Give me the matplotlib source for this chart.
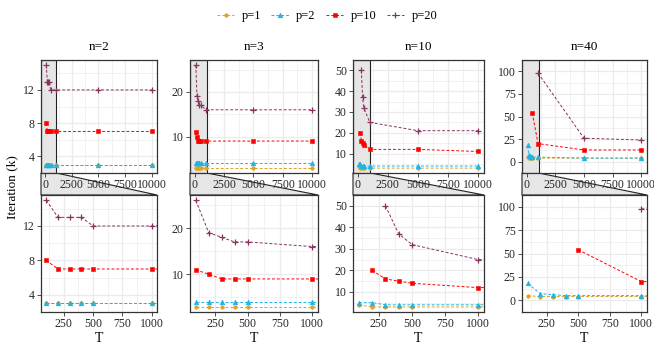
import matplotlib
matplotlib.use("Agg")
import matplotlib.pyplot as plt
from matplotlib.lines import Line2D
from matplotlib.patches import Polygon
import numpy as np

plt.rcParams['font.family'] = ['Liberation Serif', 'DejaVu Serif']

# ---- data ----
T = [100, 200, 300, 400, 500, 1000, 5000, 10000]
panels = ["n=2", "n=3", "n=10", "n=40"]
series = ["p=1", "p=2", "p=10", "p=20"]
nan = np.nan

n2_p1 = [3, 3, 3, 3, 3, 3, 3, 3]
n2_p2 = [3, 3, 3, 3, 3, 3, 3, 3]
n2_p10 = [8, 7, 7, 7, 7, 7, 7, 7]
n2_p20 = [15, 13, 13, 13, 12, 12, 12, 12]

n3_p1 = [3, 3, 3, 3, 3, 3, 3, 3]
n3_p2 = [4, 4, 4, 4, 4, 4, 4, 4]
n3_p10 = [11, 10, 9, 9, 9, 9, 9, 9]
n3_p20 = [26, 19, 18, 17, 17, 16, 16, 16]

n10_p1 = [4, 3, 3, 3, 3, 3, 3, 3]
n10_p2 = [5, 5, 4, 4, 4, 4, 4, 4]
n10_p10 = [nan, 20, 16, 15, 14, 12, 12, 11]
n10_p20 = [nan, nan, 50, 37, 32, 25, 21, 21]

n40_p1 = [5, 4, 4, 4, 4, 4, 4, 4]
n40_p2 = [18, 7, 6, 5, 5, 5, 4, 4]
n40_p10 = [nan, nan, nan, nan, 54, 20, 13, 13]
n40_p20 = [nan, nan, nan, nan, nan, 98, 26, 24]

data = {
    "n=2": [n2_p1, n2_p2, n2_p10, n2_p20],
    "n=3": [n3_p1, n3_p2, n3_p10, n3_p20],
    "n=10": [n10_p1, n10_p2, n10_p10, n10_p20],
    "n=40": [n40_p1, n40_p2, n40_p10, n40_p20],
}
yticks = {
    "n=2": [4, 8, 12],
    "n=3": [10, 20],
    "n=10": [10, 20, 30, 40, 50],
    "n=40": [0, 25, 50, 75, 100],
}
ytick_step = {"n=2": 4, "n=3": 10, "n=10": 10, "n=40": 25}

colors = ["#E0A224", "#1EB4E6", "#FF0000", "#87325F"]
markers = ["o", "^", "s", "+"]
msizes = [2.6, 3.4, 3.0, 5.0]

# ---- layout (px) ----
W, H = 654, 350
cols = [(41, 157), (190, 318), (353, 484), (522, 647)]
top_row = (60, 173)
bot_row = (195, 312)

def rect(l, t, r, b):
    return [l / W, 1 - b / H, (r - l) / W, (b - t) / H]

fig = plt.figure(figsize=(W / 100, H / 100), dpi=100)

grid_c = "#EBEBEB"
border_c = "#333333"
tick_fs = 8.5

x_full = (100 - 0.05 * 9900, 10000 + 0.05 * 9900)
x_zoom = (100 - 0.05 * 900, 1000 + 0.05 * 900)

def style_axes(ax, name, xlim, xmajor, xminor):
    vals = [v for s in data[name] for v in s if not np.isnan(v)]
    lo, hi = min(vals), max(vals)
    pad = 0.05 * (hi - lo)
    ax.set_ylim(lo - pad, hi + pad)
    ax.set_xlim(*xlim)
    ax.set_xticks(xmajor)
    ax.set_xticks(xminor, minor=True)
    ax.set_yticks(yticks[name])
    st = ytick_step[name]
    yt = yticks[name]
    ymin = [v - st / 2 for v in yt] + [yt[-1] + st / 2]
    ax.set_yticks(ymin, minor=True)
    ax.grid(True, which="major", color=grid_c, lw=0.9, zorder=0)
    ax.grid(True, which="minor", color=grid_c, lw=0.45, zorder=0)
    ax.set_axisbelow(True)
    for sp in ax.spines.values():
        sp.set_color(border_c)
        sp.set_linewidth(0.9)
    ax.tick_params(which="major", direction="out", length=3, width=0.6,
                   color=border_c, labelsize=tick_fs, labelcolor="#262626", pad=1.5)
    ax.tick_params(which="minor", length=0)

def plot_series(ax, name):
    for s, vals in enumerate(data[name]):
        ax.plot(T, vals, color=colors[s], lw=0.7, ls=(0, (3, 2)),
                marker=markers[s], ms=msizes[s], mew=0.9 if markers[s] == "+" else 0.4,
                zorder=3 + s)

for i, name in enumerate(panels):
    l, r = cols[i]
    axt = fig.add_axes(rect(l, top_row[0], r, top_row[1]))
    style_axes(axt, name, x_full, [0, 2500, 5000, 7500, 10000],
               [1250, 3750, 6250, 8750])
    axt.axvspan(x_full[0], x_zoom[1], facecolor="#E6E6E6", edgecolor="#222222",
                lw=0.8, zorder=1)
    plot_series(axt, name)
    axt.set_title(name, fontsize=9.5, pad=7)

    axb = fig.add_axes(rect(l, bot_row[0], r, bot_row[1]))
    style_axes(axb, name, x_zoom, [250, 500, 750, 1000], [125, 375, 625, 875])
    plot_series(axb, name)
    axb.set_xlabel("T", fontsize=10, labelpad=1)

    # trapezoid connecting zoom area and zoom panel
    disp_l = axt.transData.transform((x_full[0], 0))[0]
    disp_r = axt.transData.transform((x_zoom[1], 0))[0]
    xl = disp_l / W
    xr = disp_r / W
    ytop = 1 - top_row[1] / H
    ybot = 1 - bot_row[0] / H
    poly = Polygon([(xl, ytop), (xr, ytop), (r / W, ybot), (l / W, ybot)],
                   closed=True, transform=fig.transFigure, facecolor="#E6E6E6",
                   edgecolor="#222222", lw=0.8, zorder=-1)
    fig.patches.append(poly)

fig.text(12 / W, 1 - 187 / H, "Iteration (k)", rotation=90, ha="center",
         va="center", fontsize=9.5)

handles = [Line2D([0], [0], color=colors[s], lw=0.7, ls=(0, (3, 2)),
                  marker=markers[s], ms=msizes[s],
                  mew=0.9 if markers[s] == "+" else 0.4) for s in range(4)]
fig.legend(handles, series, loc="center", bbox_to_anchor=(0.5, 1 - 16 / H),
           ncol=4, frameon=False, fontsize=9, handlelength=1.4,
           handletextpad=0.6, columnspacing=0.8)

fig.savefig("out.png", dpi=100)
